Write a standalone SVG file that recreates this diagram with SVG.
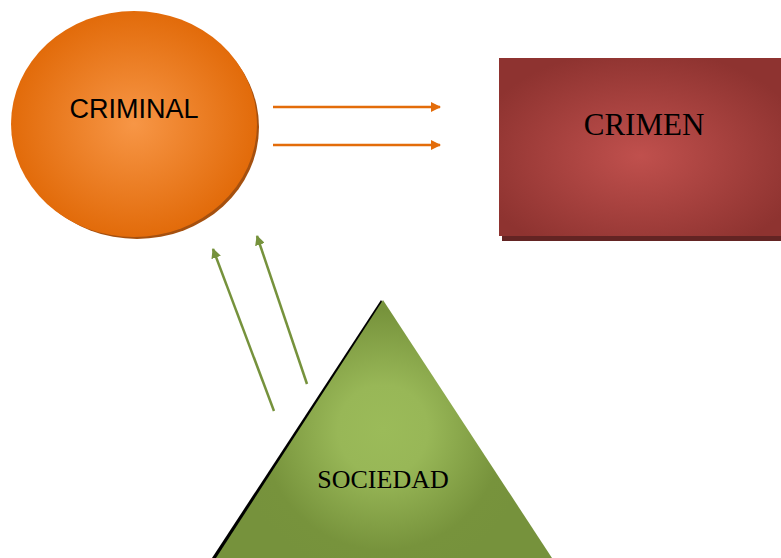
<svg xmlns="http://www.w3.org/2000/svg" width="781" height="558" viewBox="0 0 781 558">
<defs>
<radialGradient id="gOrange" cx="0.5" cy="0.5" r="0.5">
<stop offset="0" stop-color="#F79646"/>
<stop offset="1" stop-color="#E26B0A"/>
</radialGradient>
<radialGradient id="gRed" cx="0.5" cy="0.55" r="0.6">
<stop offset="0" stop-color="#C0504D"/>
<stop offset="1" stop-color="#8E3330"/>
</radialGradient>
<radialGradient id="gGreen" gradientUnits="userSpaceOnUse" cx="383" cy="430" r="150">
<stop offset="0" stop-color="#9BBB59"/>
<stop offset="0.3" stop-color="#98B757"/>
<stop offset="0.8" stop-color="#77933C"/>
<stop offset="1" stop-color="#76923C"/>
</radialGradient>
<marker id="aO" viewBox="0 0 10 10" refX="9" refY="5" markerWidth="4" markerHeight="4" orient="auto" markerUnits="strokeWidth">
<path d="M0,0 L10,5 L0,10 Z" fill="#E36C0A"/>
</marker>
<marker id="aG" viewBox="0 0 10 10" refX="9" refY="5" markerWidth="4" markerHeight="4" orient="auto" markerUnits="strokeWidth">
<path d="M0,0 L10,5 L0,10 Z" fill="#76923C"/>
</marker>
</defs>
<style>
.sans{font-family:"Liberation Sans",Arial,sans-serif;fill:#000}
.serif{font-family:"Liberation Serif","Times New Roman",serif;fill:#000}
.co{stroke:#E36C0A;stroke-width:2.5;fill:none}
.cg{stroke:#76923C;stroke-width:2.5;fill:none}
</style>
<g id="criminal">
<ellipse cx="137" cy="127" rx="122" ry="112" fill="#A5500F"/>
<ellipse cx="134" cy="124" rx="123" ry="113" fill="url(#gOrange)"/>
<text class="sans" x="134" y="118" font-size="27" text-anchor="middle">CRIMINAL</text>
</g>
<g id="crimen">
<rect x="502" y="62" width="279" height="179" fill="#632423"/>
<rect x="499" y="58" width="282" height="178" fill="url(#gRed)"/>
<text class="serif" x="644" y="135" font-size="31" text-anchor="middle">CRIMEN</text>
</g>
<g id="sociedad">
<polygon points="381,300 212,558 548,558" fill="#000"/>
<polygon points="383,300 216,558 552,558" fill="url(#gGreen)"/>
<text class="serif" x="383" y="488" font-size="26" text-anchor="middle">SOCIEDAD</text>
</g>
<g id="connectors">
<line class="co" x1="273" y1="107" x2="440" y2="107" marker-end="url(#aO)"/>
<line class="co" x1="273" y1="145" x2="440" y2="145" marker-end="url(#aO)"/>
<line class="cg" x1="274" y1="411" x2="213" y2="249" marker-end="url(#aG)"/>
<line class="cg" x1="307" y1="384" x2="257" y2="236" marker-end="url(#aG)"/>
</g>
</svg>
